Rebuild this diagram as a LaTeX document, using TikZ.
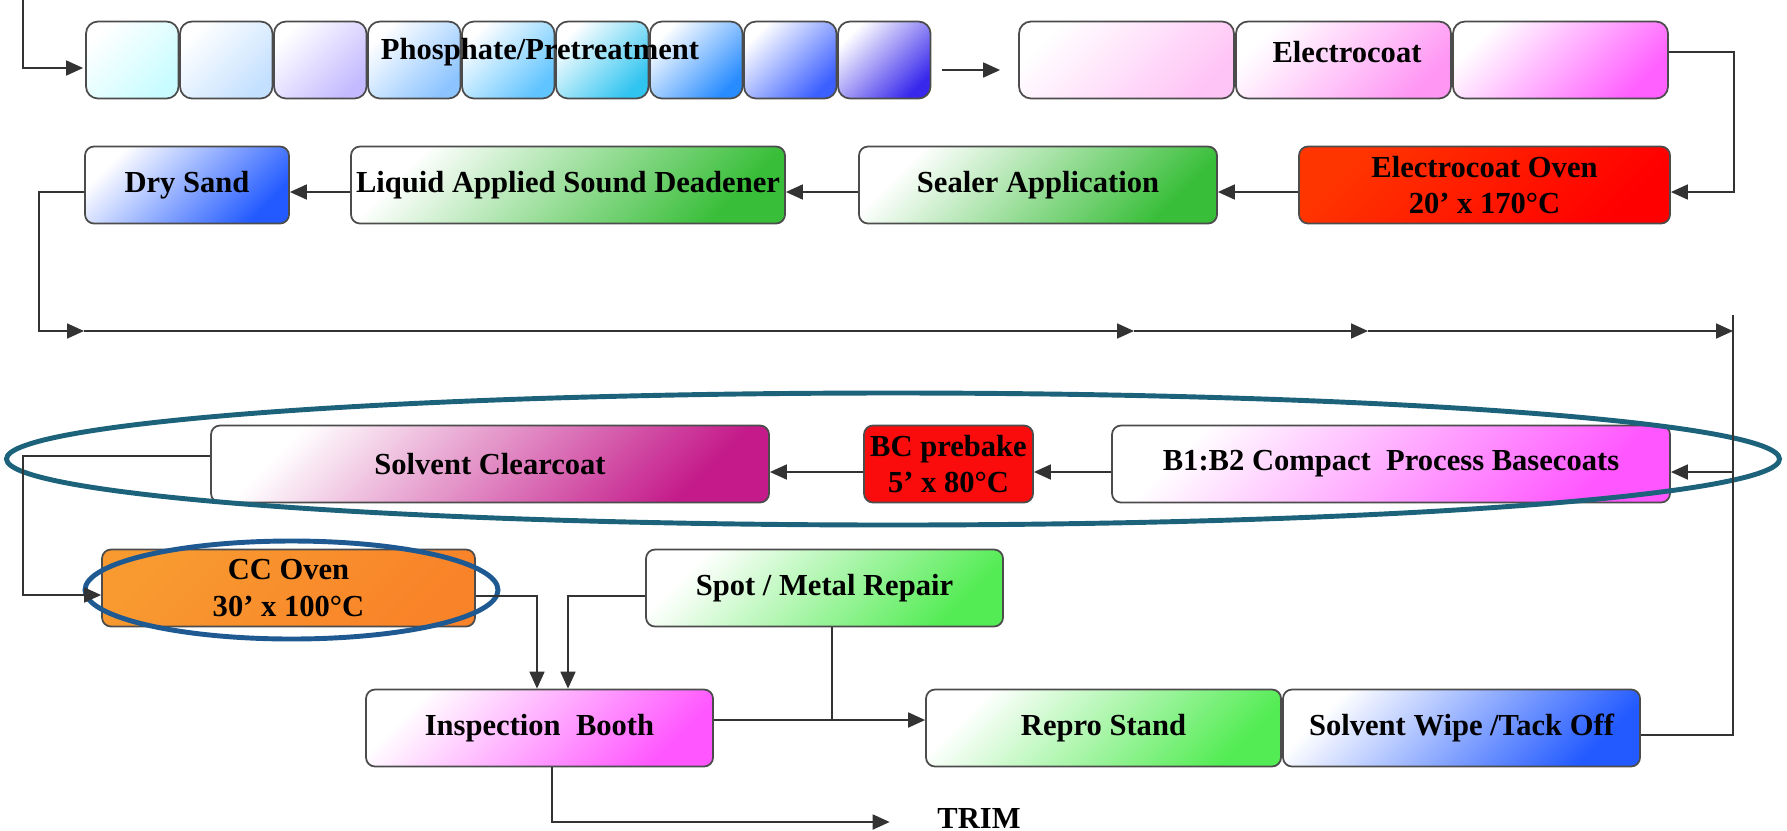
\documentclass[tikz,border=0pt]{standalone}
\usepackage{fontspec}
\setmainfont{Liberation Serif}
\usetikzlibrary{arrows.meta,calc}

% paint line colours
\definecolor{phA}{RGB}{200,252,255}
\definecolor{phB}{RGB}{196,224,255}
\definecolor{phC}{RGB}{196,186,255}
\definecolor{phD}{RGB}{140,196,255}
\definecolor{phE}{RGB}{96,196,255}
\definecolor{phF}{RGB}{48,196,240}
\definecolor{phG}{RGB}{40,140,255}
\definecolor{phH}{RGB}{60,96,255}
\definecolor{phI}{RGB}{56,40,236}
\definecolor{ecA}{RGB}{255,196,246}
\definecolor{ecB}{RGB}{255,150,244}
\definecolor{ecC}{RGB}{255,96,255}
\definecolor{sandblue}{RGB}{34,90,255}
\definecolor{sealgreen}{RGB}{56,190,56}
\definecolor{lightgreen}{RGB}{84,236,84}
\definecolor{ovenred}{RGB}{255,40,0}
\definecolor{bakered}{RGB}{250,12,12}
\definecolor{ccorange}{RGB}{248,154,48}
\definecolor{clearplum}{RGB}{196,26,138}
\definecolor{basepink}{RGB}{255,86,255}
\definecolor{ringteal}{RGB}{28,98,122}
\definecolor{ringblue}{RGB}{30,90,145}

\tikzset{
  stage/.style={draw=black!70, line width=0.5pt, rounded corners=0.9mm,
    minimum height=0.77cm, inner sep=0pt, align=center,
    font=\fontsize{8.7}{10.5}\selectfont\bfseries},
  fade/.style={top color=white, bottom color=#1, shading angle=45},
  flow/.style={draw=black!80, line width=0.5pt},
  ring/.style={draw=#1, line width=1.4pt},
  lbl/.style={inner sep=0pt, font=\fontsize{8.7}{10.5}\selectfont\bfseries},
}

\begin{document}
\begin{tikzpicture}[>={Triangle[length=1.7mm,width=1.5mm]}]
  \useasboundingbox (0,0) rectangle (17.87,8.30);

  % Pretreatment tanks and electrocoat tanks
  \foreach \i/\c in {1/phA,2/phB,3/phC,4/phD,5/phE,6/phF,7/phG,8/phH,9/phI}
    \node[stage, fade=\c, rounded corners=1.2mm, minimum width=0.925cm]
      (ph\i) at ({1.3225+0.94*(\i-1)},7.70) {};
  \node[lbl] (phlabel) at (5.40,7.78) {Phosphate/Pretreatment};

  \foreach \i/\c in {1/ecA,2/ecB,3/ecC}
    \node[stage, fade=\c, rounded corners=1.2mm, minimum width=2.15cm]
      (ec\i) at ({11.265+2.17*(\i-1)},7.70) {};
  \node[lbl] (eclabel) at (13.47,7.78) {Electrocoat};

  % Second row, right to left
  \node[stage, fade=sandblue, minimum width=2.04cm] (drysand) at (1.87,6.45) {Dry Sand};
  \node[stage, fade=sealgreen, minimum width=4.34cm] (lasd) at (5.68,6.45) {Liquid Applied Sound Deadener};
  \node[stage, fade=sealgreen, minimum width=3.58cm] (sealer) at (10.38,6.45) {Sealer Application};
  \node[stage, top color=ovenred!85!orange, bottom color=red, shading angle=45,
    minimum width=3.71cm] (ecoven) at (14.845,6.45) {Electrocoat Oven\\20’ x 170°C};

  % Topcoat row
  \node[stage, fade=clearplum, minimum width=5.58cm] (clear) at (4.90,3.66) {Solvent Clearcoat};
  \node[stage, fill=bakered, minimum width=1.69cm] (prebake) at (9.485,3.66) {BC prebake\\5’ x 80°C};
  \node[stage, fade=basepink, minimum width=5.58cm] (base) at (13.91,3.66) {B1:B2 Compact\ \ Process Basecoats};

  % Oven, inspection and repair
  \node[stage, top color=ccorange, bottom color=ccorange!85!red, shading angle=45,
    minimum width=3.73cm] (ccoven) at (2.885,2.42) {CC Oven\\30’ x 100°C};
  \node[stage, fade=lightgreen, minimum width=3.57cm] (spot) at (8.245,2.42) {Spot / Metal Repair};
  \node[stage, fade=basepink, minimum width=3.47cm] (insp) at (5.395,1.02) {Inspection\ \ Booth};
  \node[stage, fade=lightgreen, minimum width=3.55cm] (repro) at (11.035,1.02) {Repro Stand};
  \node[stage, fade=sandblue, minimum width=3.57cm] (wipe) at (14.615,1.02) {Solvent Wipe /Tack Off};
  \node[lbl] (trim) at (9.79,0.12) {TRIM};

  % Highlight rings
  \draw[ring=ringteal] (8.93,3.71) ellipse [x radius=8.865, y radius=0.66];
  \draw[ring=ringblue] (2.915,2.40) ellipse [x radius=2.065, y radius=0.49];

  % Line flow
  \coordinate (entry) at (0.23,8.30);
  \coordinate (turn) at (0.39,4.99);
  \coordinate (m1) at (0.84,4.99);
  \coordinate (m2) at (11.34,4.99);
  \coordinate (m3) at (13.68,4.99);
  \coordinate (rail) at (17.33,4.99);
  \coordinate (railtop) at (17.33,5.15);
  \coordinate (baseIn) at ([yshift=-0.8mm]base.east);
  \coordinate (join) at ([yshift=0.8mm]insp.east);

  \draw[flow,->] (entry) |- ([xshift=-0.2mm,yshift=-0.8mm]ph1.west);
  \draw[flow,->] ([xshift=1.1mm,yshift=-1mm]ph9.east) -- ([xshift=-1.8mm,yshift=-1mm]ec1.west);
  \draw[flow,->] ([yshift=0.8mm]ec3.east) -- ++(0.65,0) |- ([yshift=-0.7mm]ecoven.east);
  \draw[flow,->] ([yshift=-0.7mm]ecoven.west) -- ([yshift=-0.7mm]sealer.east);
  \draw[flow,->] ([yshift=-0.7mm]sealer.west) -- ([yshift=-0.7mm]lasd.east);
  \draw[flow,->] ([yshift=-0.7mm]lasd.west) -- ([yshift=-0.7mm]drysand.east);

  \draw[flow,->] ([yshift=-0.7mm]drysand.west) -| (turn) -- (m1);
  \draw[flow,->] (m1) -- (m2);
  \draw[flow,->] (m2) -- (m3);
  \draw[flow,->] (m3) -- (rail);
  \draw[flow] ([yshift=-0.7mm]wipe.east) -| (railtop);

  \draw[flow,->] (baseIn -| railtop) -- (baseIn);
  \draw[flow,->] ([yshift=-0.8mm]base.west) -- ([yshift=-0.8mm]prebake.east);
  \draw[flow,->] ([yshift=-0.8mm]prebake.west) -- ([yshift=-0.8mm]clear.east);
  \draw[flow,->] ([yshift=0.8mm]clear.west) -- ++(-1.87,0) |- ([yshift=-0.7mm]ccoven.west);

  \draw[flow,->] ([yshift=-0.8mm]ccoven.east) -| ([xshift=-0.25mm]insp.north);
  \draw[flow,->] ([yshift=-0.8mm]spot.west) -| ([xshift=2.85mm]insp.north);
  \draw[flow,->] (join) -- ([yshift=0.8mm]repro.west);
  \draw[flow] ([xshift=0.75mm]spot.south) |- (join);
  \draw[flow,->] ([xshift=1.25mm]insp.south) |- ([xshift=-4.7mm,yshift=-0.4mm]trim.west);
\end{tikzpicture}
\end{document}
